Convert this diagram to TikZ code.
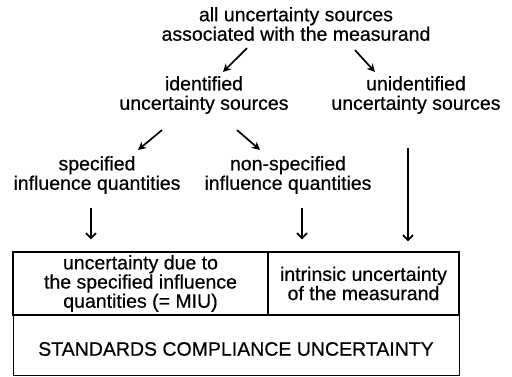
\documentclass[tikz,border=0pt]{standalone}
\usepackage{fontspec}
\setmainfont{Liberation Sans}[BoldFont=Liberation Sans, BoldFeatures={FakeBold=0.5}]
\usepackage{tikz}
\usetikzlibrary{arrows.meta}
\tikzstyle{txt}=[align=center, inner sep=0pt, font=\fontsize{19.5}{19.5}\selectfont\bfseries]
\tikzstyle{celltxt}=[align=center, inner sep=0pt, font=\fontsize{19.5}{18}\selectfont\bfseries]
\tikzstyle{cell}=[rectangle, draw, line width=1.4pt]
\tikzstyle{arrowdiag}=[line width=1.7pt, -{Stealth[length=8pt, width=8pt]}]
\tikzstyle{arrowdown}=[line width=1.8pt, -{Straight Barb[length=5pt, width=10pt]}]

\begin{document}
\begin{tikzpicture}[x=1pt, y=-1pt]
		   \useasboundingbox (0, 0) rectangle (512, 376);
		   \begin{scope}
			   \node (all) at (296, 24)[txt] {all uncertainty sources\\associated with the measurand};
			   \node (ident) at (204, 95)[txt] {identified\\uncertainty sources};
			   \node (unident) at (416, 95)[txt] {unidentified\\uncertainty sources};
			   \node (spec) at (97, 175)[txt] {specified\\influence quantities};
			   \node (nonspec) at (288, 175)[txt] {non-specified\\influence quantities};
		   \end{scope}
		   \begin{scope}
			   \node (miu) at (140.5, 283.5)[cell, celltxt, minimum width=255pt, minimum height=63pt] {uncertainty due to\\the specified influence\\quantities (= MIU)};
			   \node (intr) at (363.5, 283.5)[cell, celltxt, minimum width=191pt, minimum height=63pt] {intrinsic uncertainty\\of the measurand};
			   \node (scu) at (236, 345)[cell, txt, line width=1pt, minimum width=446pt, minimum height=60pt] {\raisebox{-4pt}[\height][\depth]{STANDARDS COMPLIANCE UNCERTAINTY}};
		   \end{scope}
		   \begin{scope}
			   \draw [arrowdiag] ([xshift=-49pt, yshift=-7pt]all.south) -- ([xshift=19pt, yshift=4pt]ident.north);
			   \draw [arrowdiag] ([xshift=59pt, yshift=-9pt]all.south) -- ([xshift=-41pt, yshift=4pt]unident.north);
			   \draw [arrowdiag] ([xshift=-42pt, yshift=-16pt]ident.south) -- ([xshift=41pt, yshift=6pt]spec.north);
			   \draw [arrowdiag] ([xshift=33pt, yshift=-16pt]ident.south) -- ([xshift=-28pt, yshift=6pt]nonspec.north);
			   \draw [arrowdown] ([xshift=-6pt, yshift=-14pt]spec.south) -- ([xshift=-49.5pt, yshift=12pt]miu.north);
			   \draw [arrowdown] ([xshift=14pt, yshift=-14pt]nonspec.south) -- ([xshift=-61.5pt, yshift=12pt]intr.north);
			   \draw [arrowdown] ([xshift=-8pt, yshift=-34pt]unident.south) -- ([xshift=44.5pt, yshift=10pt]intr.north);
		   \end{scope}
	   \end{tikzpicture}
\end{document}
